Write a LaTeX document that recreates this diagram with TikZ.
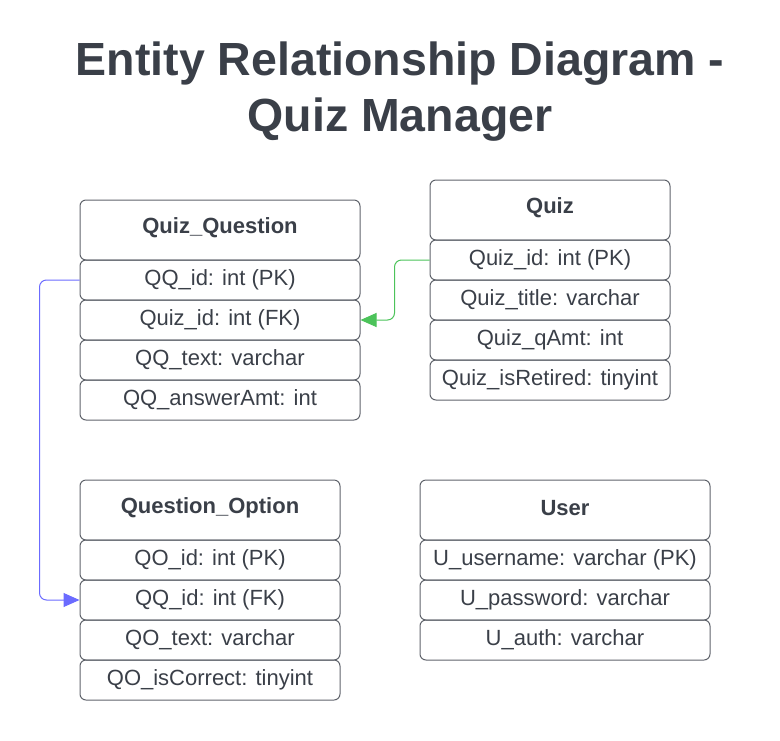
\documentclass[tikz,border=0pt]{standalone}
\usepackage{fontspec}
\setmainfont{Liberation Sans}
\usetikzlibrary{arrows.meta}
\definecolor{txt}{HTML}{3A3F48}
\definecolor{edge}{HTML}{5F636B}
\definecolor{bl}{HTML}{6B6BFF}
\definecolor{gr}{HTML}{4CC35A}
\tikzset{
  cell/.style={draw=edge, line width=1pt, rounded corners=6pt, inner sep=0pt, text=txt, font=\fontsize{22}{26}\selectfont},
  head/.style={cell},
  htext/.style={text=txt, font=\fontsize{22}{26}\selectfont\bfseries, inner sep=0pt},
  link/.style={line width=1pt, rounded corners=7pt, -{Triangle[length=16pt,width=14pt]}},
}
\begin{document}
\begin{tikzpicture}[x=1pt,y=-1pt]
\useasboundingbox (0,0) rectangle (780,740);
\node[text=txt, font=\fontsize{46.5}{56}\selectfont\bfseries, align=center, inner sep=0pt] (title) at (400,92) {Entity Relationship Diagram -\\Quiz Manager};

% Quiz_Question
\node[head, minimum width=280, minimum height=60] (qqh) at (220,230) {};
\node[htext] (qqt) at (220,228) {Quiz\_Question};
\node[cell, minimum width=280, minimum height=40] (qq1) at (220,280) {QQ\_id: int (PK)};
\node[cell, minimum width=280, minimum height=40] (qq2) at (220,320) {Quiz\_id: int (FK)};
\node[cell, minimum width=280, minimum height=40] (qq3) at (220,360) {QQ\_text: varchar};
\node[cell, minimum width=280, minimum height=40] (qq4) at (220,400) {QQ\_answerAmt: int};

% Quiz
\node[head, minimum width=240, minimum height=60] (qh) at (550,210) {};
\node[htext] (qt) at (550,208) {Quiz};
\node[cell, minimum width=240, minimum height=40] (q1) at (550,260) {Quiz\_id: int (PK)};
\node[cell, minimum width=240, minimum height=40] (q2) at (550,300) {Quiz\_title: varchar};
\node[cell, minimum width=240, minimum height=40] (q3) at (550,340) {Quiz\_qAmt: int};
\node[cell, minimum width=240, minimum height=40] (q4) at (550,380) {Quiz\_isRetired: tinyint};

% Question_Option
\node[head, minimum width=260, minimum height=60] (qoh) at (210,510) {};
\node[htext] (qot) at (210,508) {Question\_Option};
\node[cell, minimum width=260, minimum height=40] (qo1) at (210,560) {QO\_id: int (PK)};
\node[cell, minimum width=260, minimum height=40] (qo2) at (210,600) {QQ\_id: int (FK)};
\node[cell, minimum width=260, minimum height=40] (qo3) at (210,640) {QO\_text: varchar};
\node[cell, minimum width=260, minimum height=40] (qo4) at (210,680) {QO\_isCorrect: tinyint};

% User
\node[head, minimum width=290, minimum height=60] (uh) at (565,510) {};
\node[htext] (ut) at (565,508) {User};
\node[cell, minimum width=290, minimum height=40] (u1) at (565,560) {U\_username: varchar (PK)};
\node[cell, minimum width=290, minimum height=40] (u2) at (565,600) {U\_password: varchar};
\node[cell, minimum width=290, minimum height=40] (u3) at (565,640) {U\_auth: varchar};

% connectors
\draw[link, draw=bl] (qq1.west) -- ++(-40,0) |- (qo2.west);
\draw[link, draw=gr] (q1.west) -- ++(-35,0) |- (qq2.east);
\end{tikzpicture}
\end{document}
